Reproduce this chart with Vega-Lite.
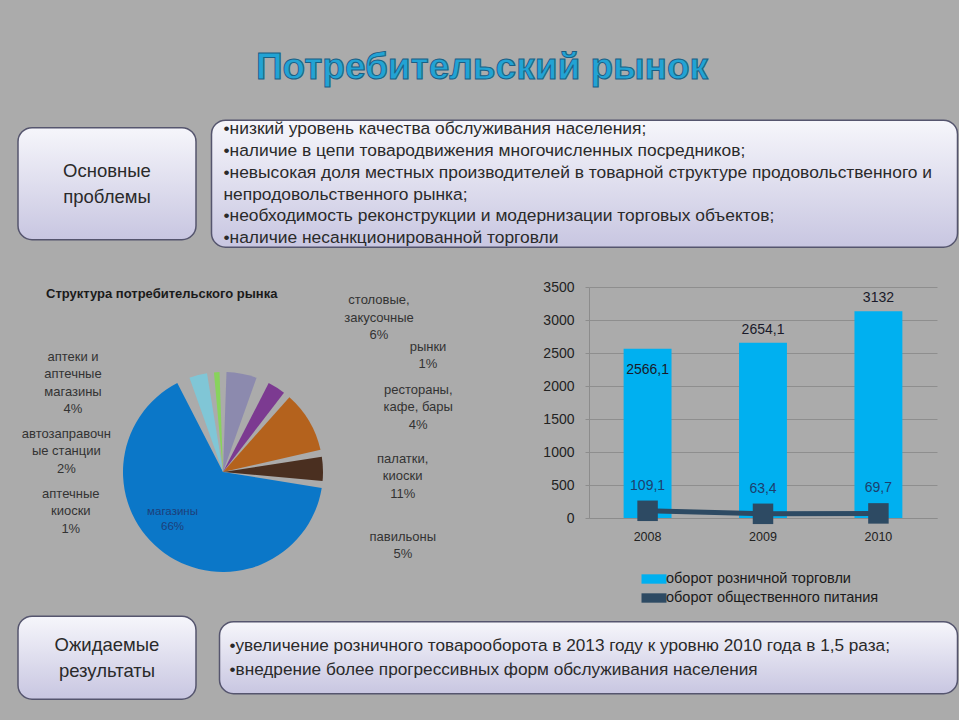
{
  "$schema": "https://vega.github.io/schema/vega-lite/v6.json",
  "background": "#ababab",
  "padding": {"left": 17, "top": 49, "right": 0, "bottom": 21},
  "spacing": 32,
  "resolve": {"scale": {"color": "independent"}, "legend": {"color": "independent"}},
  "config": {
    "font": "Liberation Sans",
    "view": {"stroke": null},
    "text": {"lineBreak": "\n"},
    "locale": {"number": {"decimal": ",", "thousands": " ", "grouping": [3], "currency": ["", ""]}}
  },
  "vconcat": [
    {
      "width": 928,
      "height": 38,
      "data": {"values": [{"t": "Потребительский рынок"}]},
      "mark": {"type": "text", "fontSize": 37, "fontWeight": "bold", "color": "#22a3d4", "stroke": "#1a5f85", "strokeWidth": 1},
      "encoding": {"text": {"field": "t"}}
    },
    {
      "hconcat": [
        {
          "width": 178,
          "height": 112,
          "view": {"fill": {"gradient": "linear", "x1": 0, "y1": 0, "x2": 0, "y2": 1, "stops": [{"offset": 0, "color": "#f6f6fb"}, {"offset": 1, "color": "#c8c6e1"}]}, "stroke": "#55556e", "strokeWidth": 1.5, "cornerRadius": 14},
          "data": {"values": [{"t": "Основные\nпроблемы"}]},
          "mark": {"type": "text", "fontSize": 18.5, "lineHeight": 26, "color": "#2a2a2a", "dy": -13},
          "encoding": {"text": {"field": "t"}}
        },
        {
          "width": 746,
          "height": 127,
          "view": {"fill": {"gradient": "linear", "x1": 0, "y1": 0, "x2": 0, "y2": 1, "stops": [{"offset": 0, "color": "#f6f6fb"}, {"offset": 1, "color": "#c8c6e1"}]}, "stroke": "#55556e", "strokeWidth": 1.5, "cornerRadius": 14},
          "data": {"values": [
            {"i": 1, "t": "•низкий уровень качества обслуживания населения;"},
            {"i": 2, "t": "•наличие в цепи товародвижения многочисленных посредников;"},
            {"i": 3, "t": "•невысокая доля местных производителей в товарной структуре продовольственного и"},
            {"i": 4, "t": "непродовольственного рынка;"},
            {"i": 5, "t": "•необходимость реконструкции и модернизации торговых объектов;"},
            {"i": 6, "t": "•наличие несанкционированной торговли"}
          ]},
          "mark": {"type": "text", "align": "left", "fontSize": 17.4, "color": "#2a2a2a"},
          "encoding": {
            "x": {"value": 12},
            "y": {"field": "i", "type": "ordinal", "scale": {"type": "point", "padding": 0.4}, "axis": null},
            "text": {"field": "t"}
          }
        }
      ],
      "spacing": 13.5,
      "center": true
    },
    {
      "vconcat": [
        {
          "hconcat": [
            {
              "width": 410,
              "height": 290,
              "title": {"text": "Структура потребительского рынка", "anchor": "start", "dx": 28, "offset": -14, "fontSize": 13, "fontWeight": "bold", "color": "#1a1a1a"},
              "data": {"values": [
                {"k": 1, "cat": "столовые, закусочные", "pct": 6, "lbl": "столовые,\nзакусочные\n6%"},
                {"k": 2, "cat": "рынки", "pct": 1, "lbl": "рынки\n1%"},
                {"k": 3, "cat": "рестораны, кафе, бары", "pct": 4, "lbl": "рестораны,\nкафе, бары\n4%"},
                {"k": 4, "cat": "палатки, киоски", "pct": 11, "lbl": "палатки,\nкиоски\n11%"},
                {"k": 5, "cat": "павильоны", "pct": 5, "lbl": "павильоны\n5%"},
                {"k": 6, "cat": "магазины", "pct": 66, "lbl": "магазины\n66%"},
                {"k": 7, "cat": "аптечные киоски", "pct": 1, "lbl": "аптечные\nкиоски\n1%"},
                {"k": 8, "cat": "аптеки и аптечные магазины", "pct": 4, "lbl": "аптеки и\nаптечные\nмагазины\n4%"},
                {"k": 9, "cat": "автозаправочные станции", "pct": 2, "lbl": "автозаправочн\nые станции\n2%"}
              ]},
              "layer": [
                {
                  "mark": {"type": "arc", "outerRadius": 100, "padAngle": 0.07, "y": 185},
                  "encoding": {
                    "theta": {"field": "pct", "type": "quantitative", "stack": true},
                    "order": {"field": "k", "type": "quantitative"},
                    "color": {
                      "field": "cat",
                      "type": "nominal",
                      "scale": {
                        "domain": ["столовые, закусочные", "рынки", "рестораны, кафе, бары", "палатки, киоски", "павильоны", "магазины", "аптечные киоски", "аптеки и аптечные магазины", "автозаправочные станции"],
                        "range": ["#8c8aae", "#2b7a78", "#7c3a91", "#b4621d", "#4a2f20", "#0b77c8", "#1eb2ea", "#80c6d6", "#88d35c"]
                      },
                      "legend": null
                    }
                  }
                },
                {"transform": [{"stack": "pct", "groupby": [], "sort": [{"field": "k", "order": "ascending"}], "as": ["s0", "s1"]}, {"filter": "datum.k === 1"}], "mark": {"type": "text", "y": 185, "radius": 125, "dx": 156, "dy": -47, "fontSize": 13, "lineHeight": 17.5, "color": "#333333"}, "encoding": {"theta": {"field": "s0", "type": "quantitative", "stack": null}, "text": {"field": "lbl"}}},
                {"transform": [{"stack": "pct", "groupby": [], "sort": [{"field": "k", "order": "ascending"}], "as": ["s0", "s1"]}, {"filter": "datum.k === 2"}], "mark": {"type": "text", "y": 185, "radius": 125, "dx": 159, "dy": -9, "fontSize": 13, "lineHeight": 17.5, "color": "#333333"}, "encoding": {"theta": {"field": "s0", "type": "quantitative", "stack": null}, "text": {"field": "lbl"}}},
                {"transform": [{"stack": "pct", "groupby": [], "sort": [{"field": "k", "order": "ascending"}], "as": ["s0", "s1"]}, {"filter": "datum.k === 3"}], "mark": {"type": "text", "y": 185, "radius": 125, "dx": 142, "dy": 31, "fontSize": 13, "lineHeight": 17.5, "color": "#333333"}, "encoding": {"theta": {"field": "s0", "type": "quantitative", "stack": null}, "text": {"field": "lbl"}}},
                {"transform": [{"stack": "pct", "groupby": [], "sort": [{"field": "k", "order": "ascending"}], "as": ["s0", "s1"]}, {"filter": "datum.k === 4"}], "mark": {"type": "text", "y": 185, "radius": 125, "dx": 100, "dy": 83, "fontSize": 13, "lineHeight": 17.5, "color": "#333333"}, "encoding": {"theta": {"field": "s0", "type": "quantitative", "stack": null}, "text": {"field": "lbl"}}},
                {"transform": [{"stack": "pct", "groupby": [], "sort": [{"field": "k", "order": "ascending"}], "as": ["s0", "s1"]}, {"filter": "datum.k === 5"}], "mark": {"type": "text", "y": 185, "radius": 125, "dx": 57, "dy": 88, "fontSize": 13, "lineHeight": 17.5, "color": "#333333"}, "encoding": {"theta": {"field": "s0", "type": "quantitative", "stack": null}, "text": {"field": "lbl"}}},
                {"transform": [{"stack": "pct", "groupby": [], "sort": [{"field": "k", "order": "ascending"}], "as": ["s0", "s1"]}, {"filter": "datum.k === 6"}], "mark": {"type": "text", "y": 185, "radius": 60, "dx": -110, "dy": 32, "fontSize": 11.5, "lineHeight": 15, "color": "#1d3f7a"}, "encoding": {"theta": {"field": "s0", "type": "quantitative", "stack": null}, "text": {"field": "lbl"}}},
                {"transform": [{"stack": "pct", "groupby": [], "sort": [{"field": "k", "order": "ascending"}], "as": ["s0", "s1"]}, {"filter": "datum.k === 7"}], "mark": {"type": "text", "y": 185, "radius": 125, "dx": -99, "dy": 135, "fontSize": 13, "lineHeight": 17.5, "color": "#333333"}, "encoding": {"theta": {"field": "s0", "type": "quantitative", "stack": null}, "text": {"field": "lbl"}}},
                {"transform": [{"stack": "pct", "groupby": [], "sort": [{"field": "k", "order": "ascending"}], "as": ["s0", "s1"]}, {"filter": "datum.k === 8"}], "mark": {"type": "text", "y": 185, "radius": 125, "dx": -104, "dy": 1, "fontSize": 13, "lineHeight": 17.5, "color": "#333333"}, "encoding": {"theta": {"field": "s0", "type": "quantitative", "stack": null}, "text": {"field": "lbl"}}},
                {"transform": [{"stack": "pct", "groupby": [], "sort": [{"field": "k", "order": "ascending"}], "as": ["s0", "s1"]}, {"filter": "datum.k === 9"}], "mark": {"type": "text", "y": 185, "radius": 125, "dx": -141, "dy": 86, "fontSize": 13, "lineHeight": 17.5, "color": "#333333"}, "encoding": {"theta": {"field": "s0", "type": "quantitative", "stack": null}, "text": {"field": "lbl"}}}
              ]
            },
            {
              "width": 348,
              "height": 231,
              "data": {"values": [
                {"year": "2008", "series": "оборот розничной торговли", "v": 2566.1},
                {"year": "2009", "series": "оборот розничной торговли", "v": 2654.1},
                {"year": "2010", "series": "оборот розничной торговли", "v": 3132},
                {"year": "2008", "series": "оборот общественного питания", "v": 109.1},
                {"year": "2009", "series": "оборот общественного питания", "v": 63.4},
                {"year": "2010", "series": "оборот общественного питания", "v": 69.7}
              ]},
              "encoding": {
                "x": {
                  "field": "year",
                  "type": "ordinal",
                  "scale": {"paddingInner": 0.585, "paddingOuter": 0.3},
                  "axis": {"title": null, "labelAngle": 0, "ticks": false, "domainColor": "#8c8c8c", "labelFontSize": 12.5, "labelColor": "#222222", "labelPadding": 12}
                },
                "y": {
                  "field": "v",
                  "type": "quantitative",
                  "scale": {"domain": [0, 3500]},
                  "axis": {"title": null, "values": [0, 500, 1000, 1500, 2000, 2500, 3000, 3500], "format": "d", "gridColor": "#8e8e8e", "domainColor": "#8c8c8c", "tickColor": "#8c8c8c", "tickSize": 4, "labelFontSize": 14, "labelColor": "#222222", "labelPadding": 11}
                },
                "color": {
                  "field": "series",
                  "type": "nominal",
                  "scale": {"domain": ["оборот розничной торговли", "оборот общественного питания"], "range": ["#00b0f0", "#2d4a63"]},
                  "legend": {"orient": "none", "legendX": 57, "legendY": 284, "title": null, "labelFontSize": 14.5, "labelColor": "#1a1a1a", "labelLimit": 400, "labelOffset": 4, "symbolType": "M-1.6,-0.6H1.6V0.6H-1.6Z", "symbolSize": 244, "symbolStrokeWidth": 0, "rowPadding": 4}
                }
              },
              "layer": [
                {"transform": [{"filter": "datum.series === 'оборот розничной торговли'"}], "mark": {"type": "bar"}},
                {"transform": [{"filter": "datum.series === 'оборот розничной торговли' && datum.year !== '2008'"}], "mark": {"type": "text", "dy": -13, "fontSize": 14, "color": "#1a1a2a"}, "encoding": {"text": {"field": "v", "type": "quantitative", "format": "~g"}, "color": {"value": "#1a1a2a"}}},
                {"transform": [{"filter": "datum.series === 'оборот розничной торговли' && datum.year === '2008'"}], "mark": {"type": "text", "dy": 21, "fontSize": 14, "color": "#1a1a2a"}, "encoding": {"text": {"field": "v", "type": "quantitative", "format": "~g"}, "color": {"value": "#1a1a2a"}}},
                {"transform": [{"filter": "datum.series === 'оборот общественного питания'"}], "mark": {"type": "line", "strokeWidth": 5}},
                {"transform": [{"filter": "datum.series === 'оборот общественного питания'"}], "mark": {"type": "point", "shape": "square", "filled": true, "size": 420, "opacity": 1}},
                {"transform": [{"filter": "datum.series === 'оборот общественного питания'"}], "mark": {"type": "text", "dy": -25, "fontSize": 14, "color": "#1c3f6e"}, "encoding": {"text": {"field": "v", "type": "quantitative", "format": "~g"}, "color": {"value": "#1c3f6e"}}}
              ]
            }
          ],
          "spacing": 89,
          "resolve": {"scale": {"color": "independent"}, "legend": {"color": "independent"}}
        },
        {
          "hconcat": [
            {
              "width": 178,
              "height": 83,
              "view": {"fill": {"gradient": "linear", "x1": 0, "y1": 0, "x2": 0, "y2": 1, "stops": [{"offset": 0, "color": "#f6f6fb"}, {"offset": 1, "color": "#c8c6e1"}]}, "stroke": "#55556e", "strokeWidth": 1.5, "cornerRadius": 14},
              "data": {"values": [{"t": "Ожидаемые\nрезультаты"}]},
              "mark": {"type": "text", "fontSize": 18.5, "lineHeight": 26, "color": "#2a2a2a", "dy": -13},
              "encoding": {"text": {"field": "t"}}
            },
            {
              "width": 738,
              "height": 72,
              "view": {"fill": {"gradient": "linear", "x1": 0, "y1": 0, "x2": 0, "y2": 1, "stops": [{"offset": 0, "color": "#f6f6fb"}, {"offset": 1, "color": "#c8c6e1"}]}, "stroke": "#55556e", "strokeWidth": 1.5, "cornerRadius": 14},
              "data": {"values": [
                {"i": 1, "t": "•увеличение розничного товарооборота в 2013 году к уровню 2010 года в 1,5 раза;"},
                {"i": 2, "t": "•внедрение  более прогрессивных форм обслуживания населения"}
              ]},
              "mark": {"type": "text", "align": "left", "fontSize": 17.2, "color": "#2a2a2a"},
              "encoding": {
                "x": {"value": 10},
                "y": {"field": "i", "type": "ordinal", "scale": {"type": "point", "padding": 1.14}, "axis": null},
                "text": {"field": "t"}
              }
            }
          ],
          "spacing": 21.5,
          "center": true
        }
      ],
      "spacing": 10
    }
  ]
}
